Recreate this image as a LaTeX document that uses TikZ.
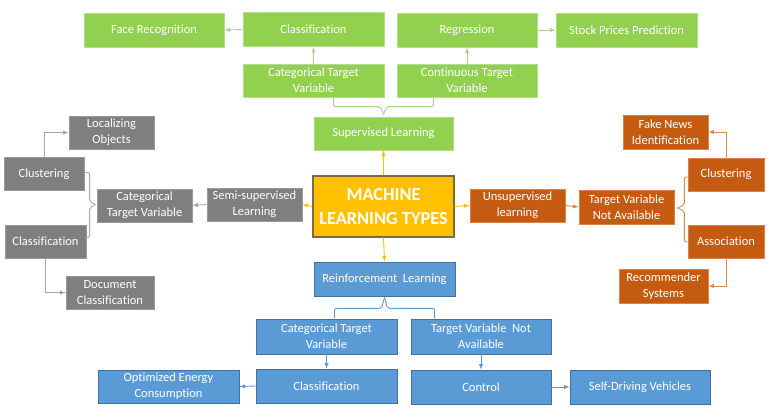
\documentclass[tikz,border=0pt]{standalone}
\usepackage{fontspec}
\setmainfont{Carlito}[Ligatures=NoCommon]
\usetikzlibrary{arrows}

\definecolor{grn}{HTML}{92D050}
\definecolor{grnedge}{HTML}{B5DE8C}
\definecolor{grnline}{HTML}{A9D18E}
\definecolor{gry}{HTML}{7F7F7F}
\definecolor{gryedge}{HTML}{999999}
\definecolor{gryline}{HTML}{A6A6A6}
\definecolor{org}{HTML}{C55A11}
\definecolor{orgedge}{HTML}{D9834A}
\definecolor{orgline}{HTML}{D58A55}
\definecolor{blu}{HTML}{5B9BD5}
\definecolor{bluedge}{HTML}{41719C}
\definecolor{yel}{HTML}{FFC000}
\definecolor{yeledge}{HTML}{7F6A3A}

\begin{document}
\begin{tikzpicture}[x=1pt, y=-1pt, >=latex,
                    box/.style={rectangle, draw, line width=0.8pt, align=center, text=white,
                                inner sep=0pt, font=\fontsize{12.5}{16}\selectfont},
                    gbox/.style={box, fill=grn, draw=grnedge},
                    kbox/.style={box, fill=gry, draw=gryedge},
                    obox/.style={box, fill=org, draw=orgedge},
                    bbox/.style={box, fill=blu, draw=bluedge},
                    gline/.style={draw=grnline, line width=0.9pt},
                    kline/.style={draw=gryline, line width=0.9pt},
                    oline/.style={draw=orgline, line width=0.9pt},
                    bline/.style={draw=blu, line width=0.9pt},
                    yline/.style={draw=yel, line width=0.9pt}]
    \useasboundingbox[fill=white] (0,0) rectangle (770,416);

    \node[box, fill=yel, draw=yeledge, line width=1.2pt, minimum width=141pt, minimum height=61pt,
          font=\fontsize{18.3}{24}\selectfont\bfseries] (mlt) at (383.5,206.5) {MACHINE\\LEARNING TYPES};

    % supervised
    \node[gbox, minimum width=139pt, minimum height=33pt] (sup) at (383.5,133.5) {Supervised Learning};
    \node[gbox, minimum width=141pt, minimum height=33pt] (gcat) at (313.5,80.5) {Categorical Target\\Variable};
    \node[gbox, minimum width=140pt, minimum height=33pt] (gcon) at (467,80.5) {Continuous Target\\Variable};
    \node[gbox, minimum width=141pt, minimum height=34pt] (gcls) at (313.5,29.5) {Classification};
    \node[gbox, minimum width=140pt, minimum height=34pt] (greg) at (467,30) {Regression};
    \node[gbox, minimum width=140pt, minimum height=34pt] (face) at (154,30) {Face Recognition};
    \node[gbox, minimum width=141pt, minimum height=34pt] (stock) at (626.5,30) {Stock Prices Prediction};

    % semi-supervised
    \node[kbox, minimum width=95pt, minimum height=33pt] (semi) at (254.5,204.5) {Semi-supervised\\Learning};
    \node[kbox, minimum width=95pt, minimum height=33pt] (kcat) at (144.5,205.5) {Categorical\\Target Variable};
    \node[kbox, minimum width=80pt, minimum height=33pt] (kclu) at (44,174) {Clustering};
    \node[kbox, minimum width=81pt, minimum height=33pt] (kcla) at (45.5,241.5) {Classification};
    \node[kbox, minimum width=85pt, minimum height=33pt] (loc) at (111.5,132.5) {Localizing\\Objects};
    \node[kbox, minimum width=88pt, minimum height=33pt] (doc) at (110,292.5) {Document\\Classification};

    % unsupervised
    \node[obox, minimum width=95pt, minimum height=33pt] (unsup) at (517.5,205.5) {Unsupervised\\learning};
    \node[obox, minimum width=95pt, minimum height=34pt] (otv) at (626.5,207) {Target Variable\\Not Available};
    \node[obox, minimum width=76pt, minimum height=33pt] (oclu) at (726,174.5) {Clustering};
    \node[obox, minimum width=76pt, minimum height=33pt] (oass) at (726,241.5) {Association};
    \node[obox, minimum width=85pt, minimum height=34pt] (fake) at (665.5,132) {Fake News\\Identification};
    \node[obox, minimum width=89pt, minimum height=34pt] (rec) at (663.5,286) {Recommender\\Systems};

    % reinforcement
    \node[bbox, minimum width=141pt, minimum height=34pt] (rein) at (384.5,279) {Reinforcement\ \ Learning};
    \node[bbox, minimum width=141pt, minimum height=35pt] (bcat) at (326.5,336.5) {Categorical Target\\Variable};
    \node[bbox, minimum width=140pt, minimum height=35pt] (btv) at (481,336.5) {Target Variable\ \ Not\\Available};
    \node[bbox, minimum width=141pt, minimum height=34pt] (bcla) at (326.5,386) {Classification};
    \node[bbox, minimum width=140pt, minimum height=34pt] (ctrl) at (481,387) {Control};
    \node[bbox, minimum width=141pt, minimum height=33pt] (opt) at (168.5,386.5) {Optimized Energy\\Consumption};
    \node[bbox, minimum width=140pt, minimum height=34pt] (self) at (640,387) {Self-Driving Vehicles};

    \draw[yline, ->] (mlt.north) -- (sup.south);
    \draw[yline, ->] (mlt.west) -- (semi.east);
    \draw[yline, ->] (mlt.east) -- (unsup.west);
    \draw[yline, ->] (mlt.south) -- (rein.north);

    \draw[gline, ->] (gcat.north) -- (gcls.south);
    \draw[gline, ->] (gcon.north) -- (greg.south);
    \draw[gline, ->] (gcls.west) -- (face.east);
    \draw[gline, ->] (greg.east) -- (stock.west);
    \draw[gline] (sup.north) ++(0,-2) [rounded corners=2pt] -- ++(-3,-8) -- ++(-47,0) -- ++(0,-10);
    \draw[gline] (sup.north) ++(0,-2) [rounded corners=2pt] -- ++(3,-8) -- ++(47,0) -- ++(0,-10);

    \draw[kline, ->] (semi.west) -- (kcat.east);
    \draw[kline, ->] (kclu.north) |- (loc.west);
    \draw[kline, ->] (kcla.south) |- (doc.west);
    \draw[kline] (kcat.west) ++(-1,-1) [rounded corners=2pt] -- ++(-6,-3) -- ++(0,-29) -- ++(-6,0);
    \draw[kline] (kcat.west) ++(-1,-1) [rounded corners=2pt] -- ++(-6,3) -- ++(0,30) -- ++(-4,0);

    \draw[oline, ->] (unsup.east) -- (otv.west);
    \draw[oline, ->] (oclu.north) |- (fake.east);
    \draw[oline, ->] (oass.south) |- (rec.east);
    \draw[oline] (otv.east) ++(3,1) [rounded corners=2pt] -- ++(7,-3) -- ++(0,-28) -- ++(5,0);
    \draw[oline] (otv.east) ++(3,1) [rounded corners=2pt] -- ++(7,3) -- ++(0,31) -- ++(5,0);

    \draw[bline, ->] (bcat.south) -- (bcla.north);
    \draw[bline, ->] (btv.south) -- (ctrl.north);
    \draw[bline, ->] (bcla.west) -- (opt.east);
    \draw[bline, ->] (ctrl.east) -- (self.west);
    \draw[bline] (rein.south) ++(0,1) [rounded corners=2pt] -- ++(-3,11) -- ++(-47,0) -- ++(0,10);
    \draw[bline] (rein.south) ++(0,1) [rounded corners=2pt] -- ++(3,11) -- ++(47,0) -- ++(0,10);
\end{tikzpicture}
\end{document}
